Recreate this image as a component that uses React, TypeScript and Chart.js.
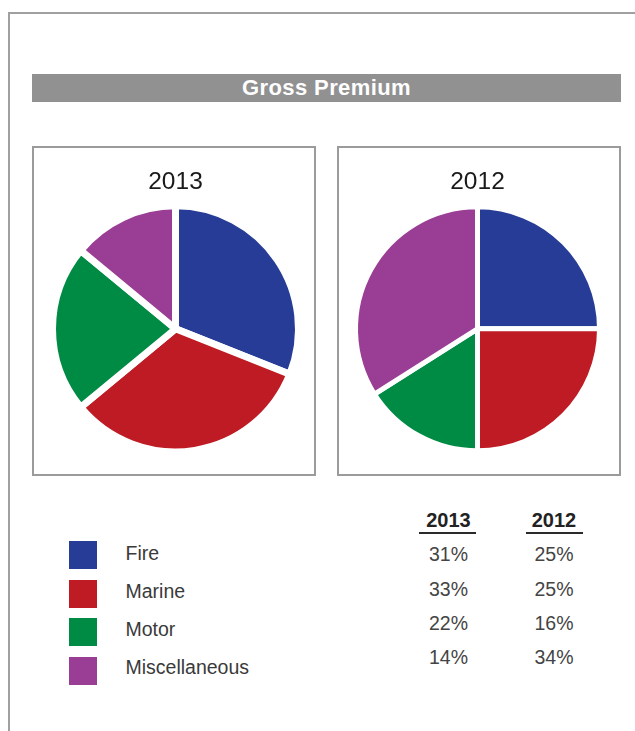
import React, { useEffect, useRef } from "react";
import { Chart, registerables } from "chart.js";

Chart.register(...registerables);

// ---- data ----
const categories = ["Fire", "Marine", "Motor", "Miscellaneous"];
const years = ["2013", "2012"];
const values2013 = [31, 33, 22, 14];
const values2012 = [25, 25, 16, 34];
const sliceColors = ["#273C96", "#BE1B24", "#008B45", "#9A3D94"];
const mainTitle = "Gross Premium";

const FONT = '"Liberation Sans", Arial, Helvetica, sans-serif';

// top of a line-height:1 text box whose baseline sits at `baseline`
const topFor = (baseline: number, fs: number) => baseline - 0.8465 * fs;

type PieProps = {
  title: string;
  values: number[];
  left: number;
  border: number;
  padLeft: number;
  padRight: number;
};

function PieBox({ title, values, left, border, padLeft, padRight }: PieProps) {
  const ref = useRef<HTMLCanvasElement | null>(null);
  useEffect(() => {
    if (!ref.current) return;
    const chart = new Chart(ref.current, {
      type: "pie",
      data: {
        labels: categories,
        datasets: [
          {
            data: values,
            backgroundColor: sliceColors,
            hoverBackgroundColor: sliceColors,
            borderColor: "#ffffff",
            hoverBorderColor: "#ffffff",
            borderWidth: border,
            hoverBorderWidth: border,
            hoverOffset: 0,
            offset: 0,
            radius: 119.5 + border / 2,
          } as any,
        ],
      },
      options: {
        responsive: false,
        animation: false,
        events: [],
        layout: { padding: { left: padLeft, right: padRight, top: 0, bottom: 19 } },
        plugins: {
          legend: { display: false },
          tooltip: { enabled: false },
          title: {
            display: true,
            text: title,
            color: "#1a1a1a",
            font: { family: FONT, size: 24.5, weight: "normal", lineHeight: 1.2 },
            padding: { top: 19.3, bottom: 6 },
          },
        },
      },
    });
    return () => chart.destroy();
  }, [title, values, border, padLeft, padRight]);

  return (
    <div
      style={{
        position: "absolute",
        left,
        top: 146,
        width: 284,
        height: 330,
        border: "2px solid #9b9b9b",
        boxSizing: "border-box",
        background: "#fff",
      }}
    >
      <canvas ref={ref} width={280} height={326} style={{ display: "block" }} />
    </div>
  );
}

export default function App() {
  const tableCols = [
    { year: years[0], values: values2013, center: 448.5, lineCenter: 447 },
    { year: years[1], values: values2012, center: 554, lineCenter: 554 },
  ];
  return (
    <div
      style={{
        position: "absolute",
        left: 0,
        top: 0,
        width: 635,
        height: 731,
        overflow: "hidden",
        background: "#fff",
        fontFamily: FONT,
      }}
    >
      {/* page frame */}
      <div
        style={{
          position: "absolute",
          left: 8,
          top: 12,
          width: 700,
          height: 800,
          borderLeft: "2px solid #a0a0a0",
          borderTop: "2px solid #a0a0a0",
        }}
      />
      {/* title bar */}
      <div
        style={{
          position: "absolute",
          left: 32,
          top: 74,
          width: 589,
          height: 28,
          background: "#919191",
          color: "#ffffff",
          fontWeight: "bold",
          fontSize: 22,
          letterSpacing: 0.4,
          lineHeight: "28px",
          textAlign: "center",
        }}
      >
        {mainTitle}
      </div>

      <PieBox title={years[0]} values={values2013} left={32} border={7} padLeft={3} padRight={0} />
      <PieBox title={years[1]} values={values2012} left={337} border={5} padLeft={0} padRight={3} />

      {/* legend */}
      {categories.map((c, i) => (
        <React.Fragment key={c}>
          <div
            style={{
              position: "absolute",
              left: 69,
              top: 541 + i * 38.7,
              width: 28,
              height: 28,
              background: sliceColors[i],
            }}
          />
          <div
            style={{
              position: "absolute",
              left: 125.5,
              top: topFor(561 + i * 37.8, 19.5),
              fontSize: 19.5,
              lineHeight: 1,
              color: "#3a3a3a",
              whiteSpace: "nowrap",
            }}
          >
            {c}
          </div>
        </React.Fragment>
      ))}

      {/* table */}
      {tableCols.map((col) => (
        <React.Fragment key={col.year}>
          <div
            style={{
              position: "absolute",
              left: col.center - 50,
              width: 100,
              top: topFor(526.7, 20),
              fontSize: 20,
              lineHeight: 1,
              fontWeight: "bold",
              color: "#222222",
              textAlign: "center",
            }}
          >
            {col.year}
          </div>
          <div
            style={{
              position: "absolute",
              left: col.lineCenter - 28.5,
              width: 57,
              top: 532,
              height: 2,
              background: "#2a2a2a",
            }}
          />
          {col.values.map((v, i) => (
            <div
              key={i}
              style={{
                position: "absolute",
                left: col.center - 50,
                width: 100,
                top: topFor(561.7 + i * 34.4, 19.5),
                fontSize: 19.5,
                lineHeight: 1,
                color: "#444444",
                textAlign: "center",
              }}
            >
              {v}%
            </div>
          ))}
        </React.Fragment>
      ))}
    </div>
  );
}
